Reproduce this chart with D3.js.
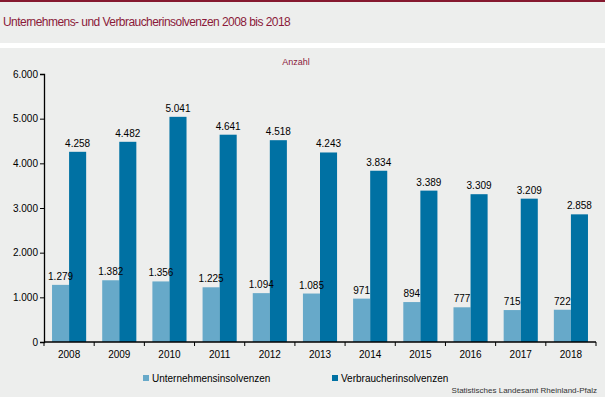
<!DOCTYPE html>
<html>
<head>
<meta charset="utf-8">
<style>
  body { margin: 0; background: #edeeed; }
  svg { display: block; font-family: "Liberation Sans", Arial, sans-serif; }
</style>
</head>
<body>
<svg width="605" height="397"></svg>
<script src="https://d3js.org/d3.v7.min.js"></script>
<script>
// data
const years = ["2008", "2009", "2010", "2011", "2012", "2013", "2014", "2015", "2016", "2017", "2018"];
const unternehmen = [1279, 1382, 1356, 1225, 1094, 1085, 971, 894, 777, 715, 722];
const verbraucher = [4258, 4482, 5041, 4641, 4518, 4243, 3834, 3389, 3309, 3209, 2858];
const seriesNames = ["Unternehmensinsolvenzen", "Verbraucherinsolvenzen"];
const yTicks = [0, 1000, 2000, 3000, 4000, 5000, 6000];

const colors = ["#67a9c9", "#0071a3"];
const maroon = "#8b1a3a";

const svg = d3.select("svg");
const W = 605, H = 397;

// page frame: top rule, title band, separator
svg.append("rect").attr("x", 0).attr("y", 0).attr("width", W).attr("height", H).attr("fill", "#edeeed");
svg.append("rect").attr("x", 0).attr("y", 0).attr("width", W).attr("height", 2).attr("fill", "#86192f");
svg.append("rect").attr("x", 0).attr("y", 43).attr("width", W).attr("height", 5).attr("fill", "#ffffff");

svg.append("text")
  .attr("x", 3).attr("y", 26)
  .attr("font-size", 12)
  .attr("letter-spacing", -0.55)
  .attr("fill", maroon)
  .text("Unternehmens- und Verbraucherinsolvenzen 2008 bis 2018");

svg.append("text")
  .attr("x", 296).attr("y", 65)
  .attr("text-anchor", "middle")
  .attr("font-size", 9)
  .attr("fill", maroon)
  .text("Anzahl");

const plotLeft = 44, plotRight = 596, plotTop = 74, plotBottom = 342;

const y = d3.scaleLinear().domain([0, 6000]).range([plotBottom, plotTop]);
const x0 = d3.scaleBand().domain(years).range([plotLeft, plotRight]).paddingInner(0.32).paddingOuter(0.16);
const x1 = d3.scaleBand().domain([0, 1]).range([0, x0.bandwidth()]);

const fmt = v => d3.format(",")(v).replace(/,/g, ".");

// y axis
const yAxis = svg.append("g")
  .attr("transform", `translate(${plotLeft},0)`)
  .call(d3.axisLeft(y).tickValues(yTicks).tickSize(4).tickFormat(fmt));
yAxis.select(".domain").attr("stroke", "#000").attr("stroke-width", 1.3);
yAxis.selectAll(".tick line").attr("stroke", "#000");
yAxis.selectAll(".tick text").attr("font-size", 10).attr("fill", "#000").attr("x", -6);

// bars
const rows = years.map((yr, i) => ({ year: yr, vals: [unternehmen[i], verbraucher[i]] }));

const groups = svg.append("g").selectAll("g")
  .data(rows).join("g")
  .attr("transform", d => `translate(${x0(d.year)},0)`);

groups.selectAll("rect")
  .data(d => d.vals.map((v, k) => ({ k, v })))
  .join("rect")
  .attr("x", d => x1(d.k))
  .attr("width", x1.bandwidth())
  .attr("y", d => y(d.v))
  .attr("height", d => y(0) - y(d.v))
  .attr("fill", d => colors[d.k]);

groups.selectAll("text")
  .data(d => d.vals.map((v, k) => ({ k, v })))
  .join("text")
  .attr("x", d => x1(d.k) + x1.bandwidth() / 2)
  .attr("y", d => y(d.v) - 5)
  .attr("text-anchor", "middle")
  .attr("font-size", 10)
  .attr("fill", "#000")
  .text(d => fmt(d.v));

// x axis with ticks between categories
const xAxis = svg.append("g").attr("transform", `translate(0,${plotBottom})`);
xAxis.append("line").attr("x1", plotLeft).attr("x2", plotRight).attr("stroke", "#000").attr("stroke-width", 1.3);
const step = x0.step();
xAxis.selectAll("line.tk")
  .data(d3.range(years.length + 1))
  .join("line").attr("class", "tk")
  .attr("x1", i => plotLeft + i * step).attr("x2", i => plotLeft + i * step)
  .attr("y1", 0).attr("y2", 4)
  .attr("stroke", "#000");
xAxis.selectAll("text")
  .data(years)
  .join("text")
  .attr("x", d => x0(d) + x0.bandwidth() / 2)
  .attr("y", 16)
  .attr("text-anchor", "middle")
  .attr("font-size", 10)
  .attr("fill", "#000")
  .text(d => d);

// legend
const legendX = [143, 332];
const legend = svg.append("g").selectAll("g")
  .data(seriesNames).join("g")
  .attr("transform", (d, i) => `translate(${legendX[i]},374)`);
legend.append("rect").attr("width", 6).attr("height", 6).attr("y", 1).attr("fill", (d, i) => colors[i]);
legend.append("text").attr("x", 9).attr("y", 8).attr("font-size", 10).attr("fill", "#000").text(d => d);

svg.append("text")
  .attr("x", 597).attr("y", 393)
  .attr("text-anchor", "end")
  .attr("font-size", 8)
  .attr("fill", "#333")
  .text("Statistisches Landesamt Rheinland-Pfalz");
</script>
</body>
</html>
